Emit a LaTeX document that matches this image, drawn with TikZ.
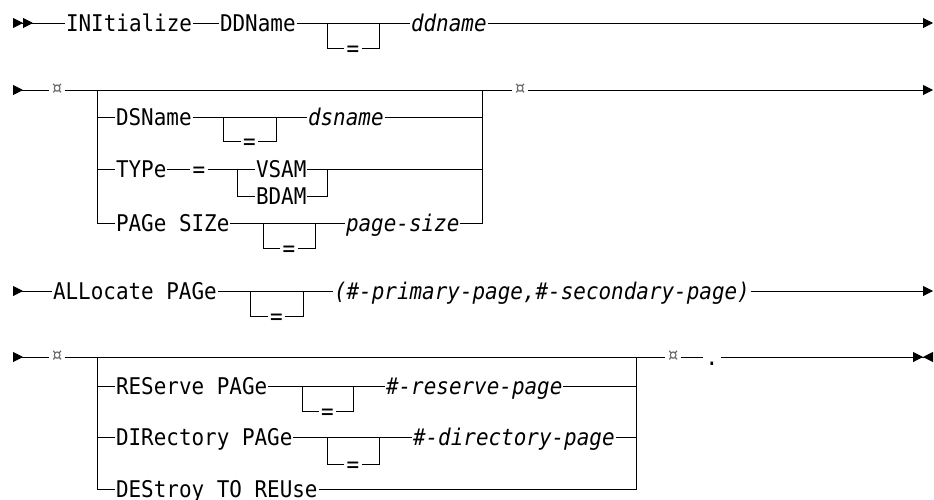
\documentclass[tikz,border=0pt]{standalone}
\usepackage{fontspec}
\setmonofont{DejaVu Sans Mono}[FakeStretch=0.91]
\usetikzlibrary{arrows.meta,positioning}

\begin{document}
\begin{tikzpicture}[
  x=1pt, y=-1pt, line width=1pt,
  kw/.style={font=\ttfamily\fontsize{23pt}{26pt}\selectfont, inner xsep=0.5pt,
             inner ysep=0pt, text height=16.8pt, text depth=0pt},
  var/.style={kw, font=\ttfamily\itshape\fontsize{23pt}{26pt}\selectfont},
  eqs/.style={kw, inner xsep=2pt},
  cur/.style={font=\ttfamily\fontsize{22pt}{22pt}\selectfont, text=black!60, inner sep=1pt},
  railstart/.style={arrows={{Triangle[reversed,length=10pt,width=10pt,sep=0pt]Triangle[reversed,length=10pt,width=10pt]}-}},
  railcont/.style={arrows={{Triangle[reversed,length=10pt,width=10pt]}-}},
  railmore/.style={arrows={-{Triangle[length=10pt,width=10pt]}}},
  railstop/.style={arrows={-{Triangle[length=10pt,width=10pt,sep=0pt]Triangle[reversed,length=10pt,width=10pt]}}}]
\useasboundingbox (0,0) rectangle (934,499);

\coordinate (r1s) at (13,23);
\node[kw, anchor=west] (init) at (65,23) {INItialize};
\node[kw, right=26pt of init] (ddn) {DDName};
\coordinate (b1l) at (327,23);
\coordinate (b1r) at (379,23);
\node[eqs] (b1eq) at (353,48) {=};
\node[var, anchor=west] (ddv) at (410,23) {ddname};
\coordinate (r1e) at (933,23);
\draw[railstart] (r1s) -- (init);
\draw (init) -- (ddn);
\draw (ddn) -- (ddv);
\draw (b1l) |- (b1eq) -| (b1r);
\draw[railmore] (ddv) -- (r1e);

\coordinate (r2s) at (13,90);
\node[cur] (c2a) at (57,90) {¤};
\coordinate (g2l) at (97,90);
\coordinate (g2r) at (482,90);
\node[cur] (c2b) at (520,90) {¤};
\coordinate (r2e) at (933,90);
\node[kw, anchor=west] (dsn) at (115,117) {DSName};
\coordinate (b2l) at (223,117);
\coordinate (b2r) at (276,117);
\node[eqs] (b2eq) at (249.5,141) {=};
\node[var, anchor=west] (dsv) at (307,117) {dsname};
\node[kw, anchor=west] (typ) at (115,169) {TYPe};
\node[eqs] (teq) at (199,169) {=};
\coordinate (chl) at (237,169);
\coordinate (chr) at (327,169);
\node[kw, anchor=west] (vsam) at (255,169) {VSAM};
\node[kw, anchor=west] (bdam) at (255,196) {BDAM};
\node[kw, anchor=west] (pgs) at (115,223) {PAGe SIZe};
\coordinate (b3l) at (263,223);
\coordinate (b3r) at (315,223);
\node[eqs] (b3eq) at (289,248) {=};
\node[var, anchor=west] (pgv) at (345,223) {page-size};
\draw[railcont] (r2s) -- (c2a);
\draw (c2a) -- (c2b);
\draw[railmore] (c2b) -- (r2e);
\draw (g2l) |- (pgs);
\draw (g2l |- dsn) -- (dsn);
\draw (g2l |- typ) -- (typ);
\draw (dsn) -- (dsv);
\draw (b2l) |- (b2eq) -| (b2r);
\draw (dsv) -- (dsv -| g2r);
\draw (typ) -- (teq);
\draw (teq) -- (vsam);
\draw (chl) |- (bdam);
\draw (bdam) -| (chr);
\draw (vsam) -- (vsam -| g2r);
\draw (pgs) -- (pgv);
\draw (b3l) |- (b3eq) -| (b3r);
\draw (pgv) -| (g2r);

\coordinate (r3s) at (13,291);
\node[kw, anchor=west] (alp) at (52,291) {ALLocate PAGe};
\coordinate (b4l) at (250,291);
\coordinate (b4r) at (303,291);
\node[eqs] (b4eq) at (276.5,316) {=};
\node[var, anchor=west] (alv) at (333,291) {(\#-primary-page,\#-secondary-page)};
\coordinate (r3e) at (933,291);
\draw[railcont] (r3s) -- (alp);
\draw (alp) -- (alv);
\draw (b4l) |- (b4eq) -| (b4r);
\draw[railmore] (alv) -- (r3e);

\coordinate (r4s) at (13,357);
\node[cur] (c4a) at (57,357) {¤};
\coordinate (g4l) at (97,357);
\coordinate (g4r) at (636,357);
\node[cur] (c4b) at (673,357) {¤};
\node[eqs] (stop) at (712,357) {.};
\coordinate (r4e) at (933,357);
\node[kw, anchor=west] (rsp) at (115,386) {REServe PAGe};
\coordinate (b5l) at (302,386);
\coordinate (b5r) at (353,386);
\node[eqs] (b5eq) at (327.5,411) {=};
\node[var, anchor=west] (rsv) at (385,386) {\#-reserve-page};
\node[kw, anchor=west] (drp) at (115,437) {DIRectory PAGe};
\coordinate (b6l) at (327,437);
\coordinate (b6r) at (379,437);
\node[eqs] (b6eq) at (353,464) {=};
\node[var, anchor=west] (drv) at (412,437) {\#-directory-page};
\node[kw, anchor=west] (dtr) at (115,489) {DEStroy TO REUse};
\draw[railcont] (r4s) -- (c4a);
\draw (c4a) -- (c4b);
\draw (c4b) -- (stop);
\draw[railstop] (stop) -- (r4e);
\draw (g4l) |- (dtr);
\draw (g4l |- rsp) -- (rsp);
\draw (g4l |- drp) -- (drp);
\draw (rsp) -- (rsv);
\draw (b5l) |- (b5eq) -| (b5r);
\draw (rsv) -- (rsv -| g4r);
\draw (drp) -- (drv);
\draw (b6l) |- (b6eq) -| (b6r);
\draw (drv) -- (drv -| g4r);
\draw (dtr) -| (g4r);
\end{tikzpicture}
\end{document}
